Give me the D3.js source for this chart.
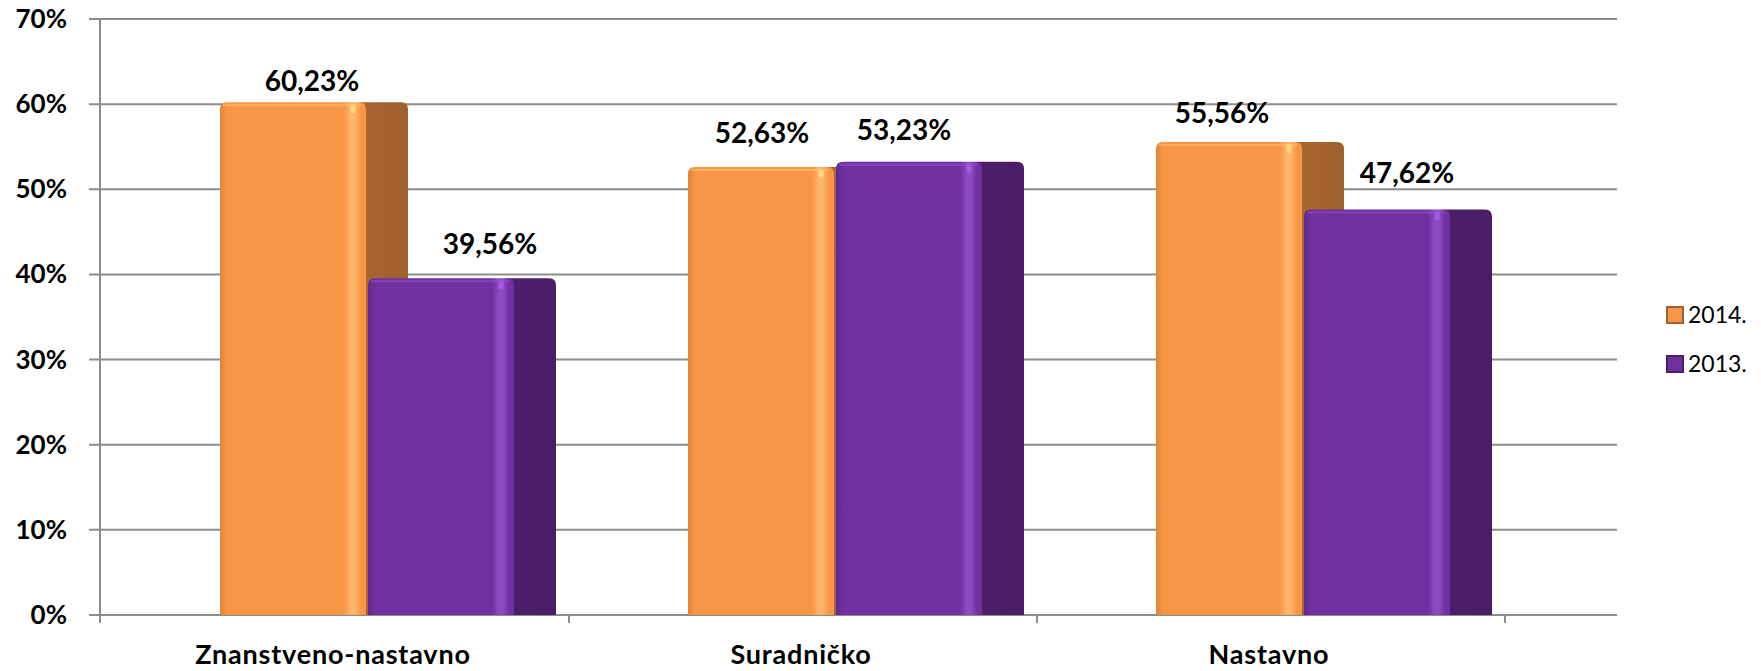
<!DOCTYPE html>
<html>
<head>
<meta charset="utf-8">
<script src="https://cdn.jsdelivr.net/npm/d3@7"></script>
<style>
  html, body { margin: 0; padding: 0; background: #fff; }
  svg text { font-family: Lato, "Open Sans", sans-serif; fill: #000; }
</style>
</head>
<body>
<svg id="chart"></svg>
<script>
/* Data */

var categories = ["Znanstveno-nastavno", "Suradničko", "Nastavno"];
var seriesNames = ["2014.", "2013."];
var values2014 = [60.23, 52.63, 55.56];
var values2013 = [39.56, 53.23, 47.62];
var yTicks = [0, 10, 20, 30, 40, 50, 60, 70];

/* Measures */

var W = 1761,
    H = 671;

var PLOT = { left: 101, right: 1505, top: 19, bottom: 615 },
    GRID_LEFT = 89,
    GRID_RIGHT = 1617,
    BAR_OFFSET = 119,   // from band start to first front face
    BAR_STEP = 148,
    BAR_FRONT = 146,
    BAR_DEPTH = 42,
    BAR_RADIUS = 7,
    LABEL_GAP = 20;

/* Label placement (Excel placed these by hand) */
var labelNudge = {
  "2014.": [[-2, 9], [-20, -4], [-28, 1]],
  "2013.": [[28, -4], [-26, -2], [9, -7]]
};

/* Colours */
var COLORS = {
  "2014.": { front: "#F79646", edge: "#E0823A", shine: "#FFB569", side: "#A0612E" },
  "2013.": { front: "#7030A0", edge: "#632890", shine: "#8C4BC0", side: "#4A1D66" }
};

var series = seriesNames.map(function(name, i) {
  var vals = i === 0 ? values2014 : values2013;
  return { name: name, values: vals };
});

var locale = d3.formatLocale({ decimal: ",", thousands: ".", grouping: [3], currency: ["", ""] });
var fmtPct = locale.format(".2f");

var svg = d3.select("#chart").attr("width", W).attr("height", H);

var x = d3.scaleBand().domain(categories).range([PLOT.left, PLOT.right]);
var xs = d3.scaleOrdinal().domain(seriesNames).range(seriesNames.map(function(d, i) { return BAR_OFFSET + i * BAR_STEP; }));
var y = d3.scaleLinear().domain([0, 70]).range([PLOT.bottom, PLOT.top]);

function addDefs() {
  var defs = svg.append("defs");
  seriesNames.forEach(function(name, i) {
    var c = COLORS[name];
    var g = defs.append("linearGradient").attr("id", "front" + i)
      .attr("x1", 0).attr("x2", 1).attr("y1", 0).attr("y2", 0);
    [[0, c.edge], [0.05, c.front], [0.85, c.front], [0.895, c.shine], [0.925, c.shine], [0.965, c.front], [1, c.front]]
      .forEach(function(s) { g.append("stop").attr("offset", s[0]).attr("stop-color", s[1]); });

    var gs = defs.append("linearGradient").attr("id", "side" + i)
      .attr("x1", 0).attr("x2", 1).attr("y1", 0).attr("y2", 0);
    gs.append("stop").attr("offset", 0).attr("stop-color", d3.color(c.side).brighter(0.15));
    gs.append("stop").attr("offset", 1).attr("stop-color", c.side);
  });
}

function topRounded(x0, y0, w, h, r) {
  r = Math.min(r, h, w / 2);
  return "M" + x0 + "," + (y0 + h) +
    "V" + (y0 + r) +
    "Q" + x0 + "," + y0 + " " + (x0 + r) + "," + y0 +
    "H" + (x0 + w - r) +
    "Q" + (x0 + w) + "," + y0 + " " + (x0 + w) + "," + (y0 + r) +
    "V" + (y0 + h) + "Z";
}

addDefs();

/* Grid */
svg.append("g").selectAll("line")
  .data(yTicks)
  .enter().append("line")
  .attr("x1", GRID_LEFT).attr("x2", GRID_RIGHT)
  .attr("y1", function(d) { return y(d); })
  .attr("y2", function(d) { return y(d); })
  .attr("stroke", "#8c8c8c")
  .attr("stroke-width", 2);

svg.append("line")
  .attr("x1", PLOT.left - 1).attr("x2", PLOT.left - 1)
  .attr("y1", y(70)).attr("y2", PLOT.bottom + 8)
  .attr("stroke", "#8c8c8c").attr("stroke-width", 2);

svg.append("g").selectAll("line")
  .data(categories)
  .enter().append("line")
  .attr("x1", function(d) { return x(d) + x.bandwidth(); })
  .attr("x2", function(d) { return x(d) + x.bandwidth(); })
  .attr("y1", PLOT.bottom).attr("y2", PLOT.bottom + 8)
  .attr("stroke", "#8c8c8c").attr("stroke-width", 2);

/* Y labels */
svg.append("g").selectAll("text")
  .data(yTicks)
  .enter().append("text")
  .attr("x", 67)
  .attr("y", function(d) { return y(d) + 9; })
  .attr("text-anchor", "end")
  .attr("font-size", 26)
  .attr("font-weight", "bold")
  .text(function(d) { return d + "%"; });

/* X labels */
svg.append("g").selectAll("text")
  .data(categories)
  .enter().append("text")
  .attr("x", function(d) { return x(d) + x.bandwidth() / 2 - 2; })
  .attr("y", 664)
  .attr("text-anchor", "middle")
  .attr("font-size", 27)
  .attr("font-weight", "bold")
  .attr("letter-spacing", 0.8)
  .text(function(d) { return d; });

/* Bars */
var bars = [];
categories.forEach(function(cat, ci) {
  series.forEach(function(s, si) {
    bars.push({ cat: cat, ci: ci, si: si, name: s.name, value: s.values[ci] });
  });
});

var barG = svg.append("g").selectAll("g")
  .data(bars)
  .enter().append("g");

barG.append("path")
  .attr("d", function(d) {
    var x0 = x(d.cat) + xs(d.name) + BAR_FRONT - 12;
    return topRounded(x0, y(d.value), BAR_DEPTH + 12, PLOT.bottom - y(d.value), BAR_RADIUS);
  })
  .attr("fill", function(d) { return "url(#side" + d.si + ")"; });

barG.append("path")
  .attr("d", function(d) {
    var x0 = x(d.cat) + xs(d.name);
    return topRounded(x0, y(d.value), BAR_FRONT, PLOT.bottom - y(d.value), BAR_RADIUS);
  })
  .attr("fill", function(d) { return "url(#front" + d.si + ")"; });

// small top glint and top rim
barG.append("rect")
  .attr("x", function(d) { return x(d.cat) + xs(d.name) + BAR_FRONT * 0.895; })
  .attr("y", function(d) { return y(d.value) + 2; })
  .attr("width", 5).attr("height", 9).attr("rx", 2.5)
  .attr("fill", function(d) { return d3.color(COLORS[d.name].shine).brighter(0.6); })
  .attr("opacity", 0.8);

barG.append("path")
  .attr("d", function(d) {
    var x0 = x(d.cat) + xs(d.name) + 3;
    return "M" + x0 + "," + (y(d.value) + 3) + "H" + (x0 + BAR_FRONT - 8);
  })
  .attr("stroke", function(d) { return d3.color(COLORS[d.name].shine).brighter(0.3); })
  .attr("stroke-width", 2)
  .attr("opacity", 0.5);

/* Data labels */
svg.append("g").selectAll("text")
  .data(bars)
  .enter().append("text")
  .attr("x", function(d) {
    return x(d.cat) + xs(d.name) + (BAR_FRONT + BAR_DEPTH) / 2 + labelNudge[d.name][d.ci][0];
  })
  .attr("y", function(d) { return y(d.value) - LABEL_GAP + labelNudge[d.name][d.ci][1]; })
  .attr("text-anchor", "middle")
  .attr("font-size", 28)
  .attr("font-weight", "bold")
  .text(function(d) { return fmtPct(d.value) + "%"; });

/* Legend */
var legend = svg.append("g").selectAll("g")
  .data(seriesNames)
  .enter().append("g")
  .attr("transform", function(d, i) { return "translate(1667," + (307 + i * 49) + ")"; });

legend.append("rect")
  .attr("width", 16).attr("height", 16)
  .attr("fill", function(d) { return COLORS[d].front; })
  .attr("stroke", function(d) { return COLORS[d].side; })
  .attr("stroke-width", 2);

legend.append("text")
  .attr("x", 21).attr("y", 16)
  .attr("font-size", 23)
  .attr("fill", "#222")
  .text(function(d) { return d; });
</script>
</body>
</html>
